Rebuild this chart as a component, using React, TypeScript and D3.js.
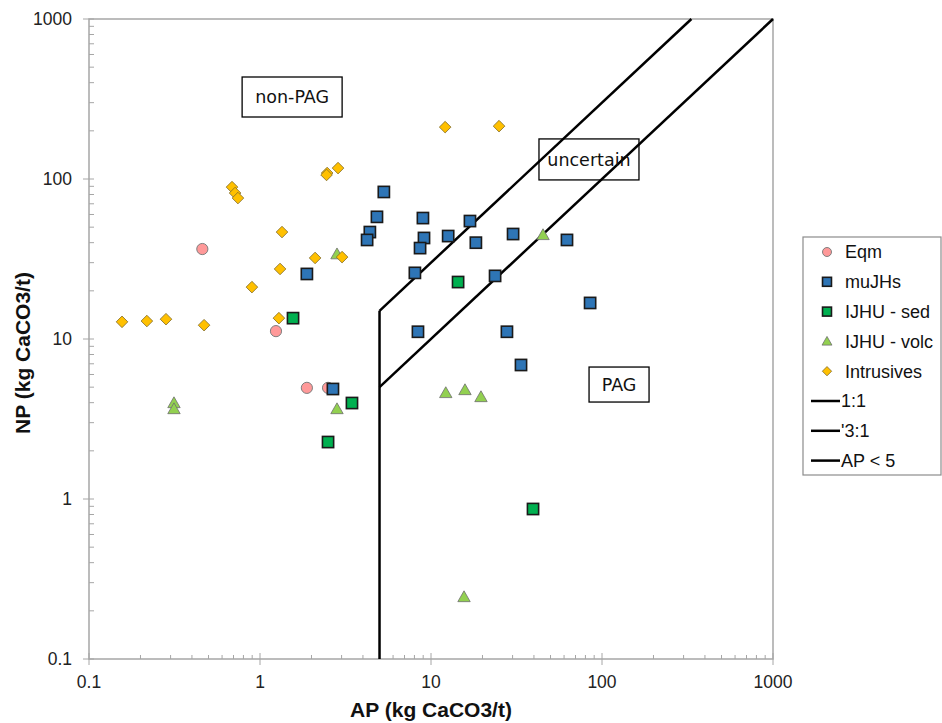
import React from "react";
import * as d3 from "d3";

// AP, NP pairs (kg CaCO3/t)
const eqm = [[0.46, 36.5], [1.24, 11.2], [1.88, 4.95], [2.5, 4.95]];
const muJHs = [
  [5.3, 83], [4.83, 58], [4.39, 46.6], [4.23, 41.6], [8.97, 57], [9.1, 42.8],
  [8.63, 37], [12.6, 44], [16.9, 54.6], [18.3, 40], [30.2, 45.3], [62.4, 41.6],
  [1.88, 25.5], [8.05, 25.9], [23.7, 24.8], [85.2, 16.8], [8.39, 11.1],
  [27.8, 11.1], [33.6, 6.88], [2.67, 4.87],
];
const ijhuSed = [[1.56, 13.5], [14.4, 22.7], [3.45, 3.98], [2.5, 2.27], [39.5, 0.866]];
const ijhuVolc = [
  [0.314, 3.98], [0.314, 3.65], [2.82, 33.9], [2.82, 3.65], [12.2, 4.6],
  [15.8, 4.8], [19.6, 4.34], [45.2, 44.7], [15.6, 0.244],
];
const intrusives = [
  [0.156, 12.8], [0.218, 12.95], [0.282, 13.3], [0.471, 12.2], [1.29, 13.5],
  [0.897, 21.1], [1.31, 27.4], [2.1, 32.1], [3.02, 32.5], [1.345, 46.6],
  [0.686, 89], [0.715, 81.7], [0.743, 76], [2.47, 109], [2.45, 106],
  [2.86, 117], [12.1, 211], [25, 214],
];

const line11 = [[5, 5], [1000, 1000]];
const line31 = [[5, 15], [333.3, 1000]];
const lineAP5 = [[5, 0.1], [5, 15]];

const regions = [
  { label: "non-PAG", ap: 0.786, np: 434, w: 100, h: 40 },
  { label: "uncertain", ap: 42.8, np: 178, w: 100, h: 41 },
  { label: "PAG", ap: 84, np: 6.68, w: 60, h: 35 },
];

const majorTicks = [0.1, 1, 10, 100, 1000];
const tickLabels = ["0.1", "1", "10", "100", "1000"];

const W = 942, H = 723;
const x = d3.scaleLog().domain([0.1, 1000]).range([89, 773]);
const y = d3.scaleLog().domain([0.1, 1000]).range([659, 19]);

const minorTicks: number[] = [];
majorTicks.slice(0, -1).forEach(d => {
  for (let k = 2; k <= 9; k++) minorTicks.push(d * k);
});

const lineGen = d3.line<number[]>().x(d => x(d[0])).y(d => y(d[1]));
const font = "'Liberation Sans', Arial, sans-serif";

type Kind = "circle" | "square" | "sqgreen" | "tri" | "diamond";

function Marker({ kind, cx, cy, s = 1 }: { kind: Kind; cx: number; cy: number; s?: number }) {
  if (kind === "circle")
    return <circle cx={cx} cy={cy} r={5.6 * s} fill="#ff9999" stroke="#7f7f7f" strokeWidth={1} />;
  if (kind === "square" || kind === "sqgreen") {
    const h = 5.6 * s;
    return <rect x={cx - h} y={cy - h} width={2 * h} height={2 * h}
      fill={kind === "square" ? "#2e75b6" : "#00b050"} stroke="#1a1a1a" strokeWidth={1.6} />;
  }
  if (kind === "tri") {
    const r = 6.2 * s;
    return <path d={`M${cx},${cy - r}L${cx + r},${cy + r * 0.75}L${cx - r},${cy + r * 0.75}Z`}
      fill="#92d050" stroke="#6f6f6f" strokeWidth={0.8} />;
  }
  const r = 5.8 * s;
  return <path d={`M${cx},${cy - r}L${cx + r},${cy}L${cx},${cy + r}L${cx - r},${cy}Z`}
    fill="#ffc000" stroke="#7f6a2a" strokeWidth={0.8} />;
}

const seriesList: { name: string; data: number[][]; kind: Kind }[] = [
  { name: "Eqm", data: eqm, kind: "circle" },
  { name: "muJHs", data: muJHs, kind: "square" },
  { name: "IJHU - sed", data: ijhuSed, kind: "sqgreen" },
  { name: "IJHU - volc", data: ijhuVolc, kind: "tri" },
  { name: "Intrusives", data: intrusives, kind: "diamond" },
];
const lineNames = ["1:1", "'3:1", "AP < 5"];

export default function App() {
  const legendTop = 237, legendStep = 29.8;
  return (
    <svg width={W} height={H} style={{ position: "absolute", left: 0, top: 0, background: "#fff" }}>
      <rect x={0} y={0} width={W} height={H} fill="#fff" />
      {/* plot frame */}
      <rect x={89} y={19} width={684} height={640} fill="none" stroke="#a6a6a6" strokeWidth={1.5} />
      {/* y ticks */}
      {majorTicks.map((t, i) => (
        <g key={"ym" + i}>
          <line x1={83} x2={94} y1={y(t)} y2={y(t)} stroke="#a6a6a6" strokeWidth={1} />
          <text x={72} y={y(t)} dy="0.36em" textAnchor="end" fontFamily={font} fontSize={17.5} fill="#222">{tickLabels[i]}</text>
        </g>
      ))}
      {minorTicks.map((t, i) => (
        <line key={"yn" + i} x1={89} x2={94} y1={y(t)} y2={y(t)} stroke="#a6a6a6" strokeWidth={1} />
      ))}
      {/* x ticks */}
      {majorTicks.map((t, i) => (
        <g key={"xm" + i}>
          <line x1={x(t)} x2={x(t)} y1={653} y2={665} stroke="#a6a6a6" strokeWidth={1} />
          <text x={x(t)} y={688} textAnchor="middle" fontFamily={font} fontSize={17.5} fill="#222">{tickLabels[i]}</text>
        </g>
      ))}
      {minorTicks.map((t, i) => (
        <line key={"xn" + i} x1={x(t)} x2={x(t)} y1={655} y2={659} stroke="#a6a6a6" strokeWidth={1} />
      ))}
      {/* axis titles */}
      <text x={431} y={717} textAnchor="middle" fontFamily={font} fontWeight="bold" fontSize={21} fill="#111">AP (kg CaCO3/t)</text>
      <text transform="translate(30,353) rotate(-90)" textAnchor="middle" fontFamily={font} fontWeight="bold" fontSize={21} fill="#111">NP (kg CaCO3/t)</text>
      {/* classification lines */}
      {[line11, line31, lineAP5].map((l, i) => (
        <path key={"l" + i} d={lineGen(l) || ""} fill="none" stroke="#000" strokeWidth={2.5} />
      ))}
      {/* region labels */}
      {regions.map(r => (
        <g key={r.label}>
          <rect x={x(r.ap)} y={y(r.np)} width={r.w} height={r.h} fill="#fff" fillOpacity={0} stroke="#000" strokeWidth={1.3} />
          <text x={x(r.ap) + r.w / 2} y={y(r.np) + r.h / 2} dy="0.36em" textAnchor="middle"
            fontFamily="'DejaVu Sans', sans-serif" fontSize={17.5} fill="#111">{r.label}</text>
        </g>
      ))}
      {/* points */}
      {seriesList.map(s => (
        <g key={s.name}>
          {s.data.map((d, i) => <Marker key={i} kind={s.kind} cx={x(d[0])} cy={y(d[1])} />)}
        </g>
      ))}
      {/* legend */}
      <rect x={803} y={legendTop} width={138} height={238} fill="#fff" stroke="#8c8c8c" strokeWidth={1.2} />
      {seriesList.map((s, i) => {
        const ly = legendTop + 15 + i * legendStep;
        return (
          <g key={"lg" + s.name}>
            <Marker kind={s.kind} cx={827} cy={ly} s={0.8} />
            <text x={845} y={ly} dy="0.36em" fontFamily={font} fontSize={18} fill="#111">{s.name}</text>
          </g>
        );
      })}
      {lineNames.map((n, i) => {
        const ly = legendTop + 15 + (i + 5) * legendStep;
        return (
          <g key={"ll" + i}>
            <line x1={811} x2={840} y1={ly} y2={ly} stroke="#000" strokeWidth={2.5} />
            <text x={841} y={ly} dy="0.36em" fontFamily={font} fontSize={18} fill="#111">{n}</text>
          </g>
        );
      })}
    </svg>
  );
}
